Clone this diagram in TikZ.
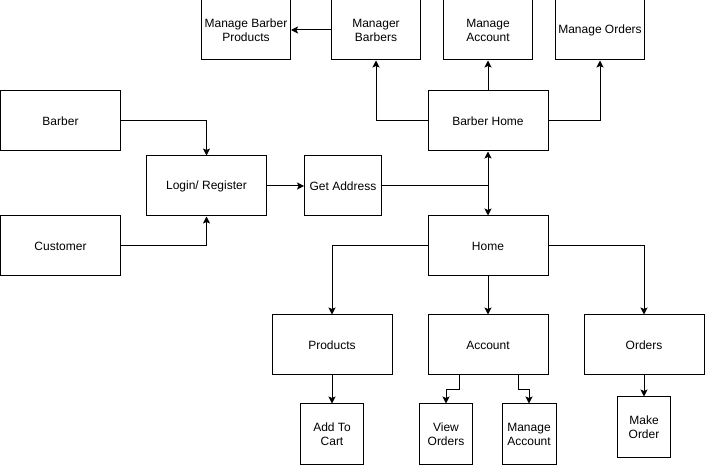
\documentclass[tikz,border=0pt]{standalone}
\usepackage{fontspec}
\setmainfont{Liberation Sans}
\usetikzlibrary{calc}
\usetikzlibrary{arrows.meta}

\begin{document}
\begin{tikzpicture}[
    x=1pt, y=-1pt,
    box/.style={draw, line width=1pt, rectangle, minimum height=60pt, inner sep=1pt, align=center, font=\fontsize{12}{14}\selectfont},
    wide/.style={box, minimum width=120pt},
    mid/.style={box, minimum width=89pt},
    slim/.style={box, minimum width=53pt},
    arr/.style={line width=1pt, -{Stealth[length=7pt, width=7pt, inset=1.5pt]}},
    lin/.style={line width=1pt}
]
\useasboundingbox (0,0) rectangle (705,465);

% Barber side, top row
\node[mid] (mbp) at (246,30) {Manage Barber\\Products};
\node[mid] (mb) at (376,30) {Manager\\Barbers};
\node[mid] (mact) at (488,30) {Manage\\Account};
\node[mid] (mord) at (600,30) {Manage Orders};

% Entry
\node[wide] (barber) at (60.5,121) {Barber};
\node[wide] (cust) at (60.5,246) {Customer};
\node[wide] (login) at (206.5,186) {Login/ Register};
\node[box, minimum width=77pt] (addr) at (343,186) {Get Address};

% Homes
\node[wide] (bhome) at (488,121) {Barber Home};
\node[wide] (home) at (488,246) {Home};

% Customer pages
\node[wide] (prod) at (332,345) {Products};
\node[wide] (acct) at (488,345) {Account};
\node[wide] (ord) at (644,345) {Orders};

% Leaves
\node[box, minimum width=63pt] (cart) at (332,434) {Add To\\Cart};
\node[slim] (view) at (446,434) {View\\Orders};
\node[box, minimum width=54pt] (macc) at (529,434) {Manage\\Account};
\node[slim] (make) at (644,427) {Make\\Order};

% Connectors, top
\draw[arr] (mb.west) -- (mbp.east);
\draw[arr] (bhome.west) -| (mb.south);
\draw[arr] (bhome.north) -- (mact.south);
\draw[arr] (bhome.east) -| (mord.south);

% Connectors, entry
\draw[arr] (barber.east) -| (login.north);
\draw[arr] (cust.east) -| (login.south);
\draw[arr] (login.east) -- (addr.west);
\coordinate (split) at (488,186);
\draw[lin] (addr.east) -- (split);
\draw[arr] (split) -- (bhome.south);
\draw[arr] (split) -- (home.north);

% Connectors, customer side
\draw[arr] (home.west) -| (prod.north);
\draw[arr] (home.south) -- (acct.north);
\draw[arr] (home.east) -| (ord.north);
\draw[arr] (prod.south) -- (cart.north);
\draw[arr] (ord.south) -- (make.north);
\draw[arr] ($(acct.south)+(-29,0)$) -- ++(0,14) -| (view.north);
\draw[arr] ($(acct.south)+(30,0)$) -- ++(0,14) -| (macc.north);

\end{tikzpicture}
\end{document}
